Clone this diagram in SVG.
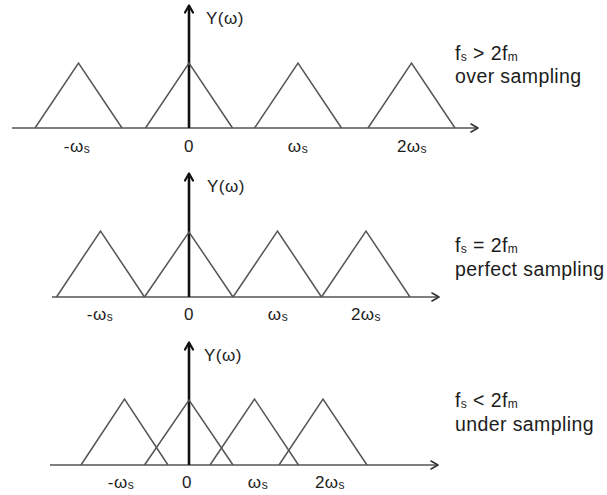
<svg xmlns="http://www.w3.org/2000/svg" width="607" height="495" viewBox="0 0 607 495">
  <style>
    .axis { stroke: #555; stroke-width: 1.5; fill: none; }
    .yaxis { stroke: #111; stroke-width: 2.6; fill: none; }
    .head { stroke: #333; stroke-width: 1.6; fill: none; stroke-linecap: round; stroke-linejoin: round; }
    .vhead { stroke: #111; stroke-width: 2.2; fill: none; stroke-linecap: round; stroke-linejoin: round; }
    .tri { stroke: #555; stroke-width: 1.5; fill: none; stroke-linejoin: miter; }
    .lbl { font-family: "Liberation Sans", Arial, Helvetica, sans-serif; font-size: 17px; fill: #1c1c1c; letter-spacing: 0.5px; }
    .note { font-family: "Liberation Sans", Arial, Helvetica, sans-serif; font-size: 19.5px; fill: #1c1c1c; letter-spacing: 0.4px; }
    .sub { font-size: 12px; }
    .mid { text-anchor: middle; }
  </style>

  <!-- Panel 1: over sampling -->
  <g id="panel-over">
    <g id="axes-over">
      <line class="axis" x1="12" y1="128" x2="478" y2="128"/>
      <polyline class="head" points="471,124 478,128 471,132"/>
      <line class="yaxis" x1="189" y1="128" x2="189" y2="6"/>
      <polyline class="vhead" points="185,12.5 189,5.5 193,12.5"/>
    </g>
    <g id="spectra-over">
      <polyline class="tri" points="35,128 78.5,63 122,128"/>
      <polyline class="tri" points="145.5,128 189,63 232.5,128"/>
      <polyline class="tri" points="254.5,128 298,63 341.5,128"/>
      <polyline class="tri" points="368,128 411.5,63 455,128"/>
    </g>
    <text class="lbl" x="206" y="24">Y(ω)</text>
    <text class="lbl mid" x="77" y="152">-ω<tspan class="sub" dy="1">s</tspan></text>
    <text class="lbl mid" x="189" y="152">0</text>
    <text class="lbl mid" x="298" y="152">ω<tspan class="sub" dy="1">s</tspan></text>
    <text class="lbl mid" x="412" y="152">2ω<tspan class="sub" dy="1">s</tspan></text>
    <text class="note" x="455" y="60">f<tspan class="sub" dy="1">s</tspan><tspan dy="-1"> &gt; 2f</tspan><tspan class="sub" dy="1">m</tspan></text>
    <text class="note" x="455" y="83">over sampling</text>
  </g>

  <!-- Panel 2: perfect sampling -->
  <g id="panel-perfect">
    <g id="axes-perfect">
      <line class="axis" x1="52" y1="297" x2="439" y2="297"/>
      <polyline class="head" points="432,293 439,297 432,301"/>
      <line class="yaxis" x1="189" y1="297" x2="189" y2="174"/>
      <polyline class="vhead" points="185,180.5 189,173.5 193,180.5"/>
    </g>
    <g id="spectra-perfect">
      <polyline class="tri" points="56.5,297 100.5,231 144.5,297"/>
      <polyline class="tri" points="144.5,297 189,232 233,297"/>
      <polyline class="tri" points="233,297 277.5,231 321.5,297"/>
      <polyline class="tri" points="321.5,297 366,231 410,297"/>
    </g>
    <text class="lbl" x="207" y="192">Y(ω)</text>
    <text class="lbl mid" x="100" y="320">-ω<tspan class="sub" dy="1">s</tspan></text>
    <text class="lbl mid" x="189" y="320">0</text>
    <text class="lbl mid" x="278" y="320">ω<tspan class="sub" dy="1">s</tspan></text>
    <text class="lbl mid" x="366" y="320">2ω<tspan class="sub" dy="1">s</tspan></text>
    <text class="note" x="455" y="252">f<tspan class="sub" dy="1">s</tspan><tspan dy="-1"> = 2f</tspan><tspan class="sub" dy="1">m</tspan></text>
    <text class="note" x="455" y="276">perfect sampling</text>
  </g>

  <!-- Panel 3: under sampling -->
  <g id="panel-under">
    <g id="axes-under">
      <line class="axis" x1="50" y1="465" x2="438" y2="465"/>
      <polyline class="head" points="431,461 438,465 431,469"/>
      <line class="yaxis" x1="189" y1="465" x2="189" y2="343"/>
      <polyline class="vhead" points="185,349.5 189,342.5 193,349.5"/>
    </g>
    <g id="spectra-under">
      <polyline class="tri" points="81,465 124.5,399 168,465"/>
      <polyline class="tri" points="144.5,465 189,400 233,465"/>
      <polyline class="tri" points="210,465 254.5,399 298.5,465"/>
      <polyline class="tri" points="279,465 323,399 367,465"/>
    </g>
    <text class="lbl" x="204" y="361">Y(ω)</text>
    <text class="lbl mid" x="121" y="488">-ω<tspan class="sub" dy="1">s</tspan></text>
    <text class="lbl mid" x="187" y="488">0</text>
    <text class="lbl mid" x="258" y="488">ω<tspan class="sub" dy="1">s</tspan></text>
    <text class="lbl mid" x="330" y="488">2ω<tspan class="sub" dy="1">s</tspan></text>
    <text class="note" x="455" y="407">f<tspan class="sub" dy="1">s</tspan><tspan dy="-1"> &lt; 2f</tspan><tspan class="sub" dy="1">m</tspan></text>
    <text class="note" x="455" y="431">under sampling</text>
  </g>
</svg>
